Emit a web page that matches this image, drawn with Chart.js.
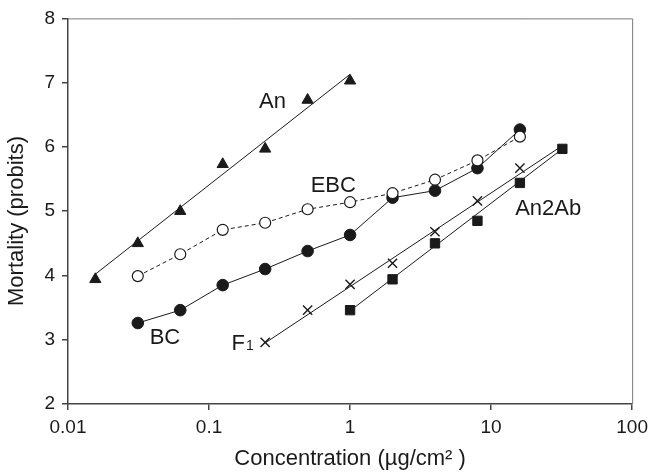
<!DOCTYPE html>
<html>
<head>
<meta charset="utf-8">
<script src="https://cdn.jsdelivr.net/npm/chart.js@4.4.1/dist/chart.umd.min.js"></script>
<style>
  html, body { margin: 0; padding: 0; background: #fff; }
</style>
</head>
<body>
<canvas id="probitChart" width="654" height="472"></canvas>
<script>
// concentrations (ug/cm2) for each series
const anX = [0.015625, 0.03125, 0.0625, 0.125, 0.25, 0.5, 1];
const anY = [3.94, 4.50, 5.00, 5.73, 5.97, 6.73, 7.03];

const ebcX = [0.03125, 0.0625, 0.125, 0.25, 0.5, 1, 2, 4, 8, 16];
const ebcY = [3.99, 4.33, 4.71, 4.82, 5.03, 5.14, 5.28, 5.49, 5.79, 6.16];

const bcX = [0.03125, 0.0625, 0.125, 0.25, 0.5, 1, 2, 4, 8, 16];
const bcY = [3.26, 3.46, 3.85, 4.10, 4.38, 4.63, 5.21, 5.32, 5.67, 6.27];

const f1X = [0.25, 0.5, 1, 2, 4, 8, 16];
const f1Y = [2.96, 3.46, 3.86, 4.19, 4.68, 5.16, 5.67];

const an2abX = [1, 2, 4, 8, 16, 32];
const an2abY = [3.46, 3.94, 4.50, 4.85, 5.44, 5.97];

// fitted probit lines (end points)
const anFitX = [0.015625, 1];
const anFitY = [4.02, 7.13];
const f1FitX = [0.25, 32];
const f1FitY = [2.95, 6.02];
const an2abFitX = [1, 32];
const an2abFitY = [3.45, 5.97];

const xTicks = [0.01, 0.1, 1, 10, 100];
const xTickLabels = ['0.01', '0.1', '1', '10', '100'];
const yTicks = [2, 3, 4, 5, 6, 7, 8];

const FONT = '"Liberation Sans", Arial, Helvetica, sans-serif';
const INK = '#1a1a1a';

function pts(xs, ys) {
    return xs.map((x, i) => ({ x: x, y: ys[i] }));
}

// series labels written inside the plot, anchored in data units
const seriesLabels = [
    { text: 'An', x: 0.282, y: 6.73 },
    { text: 'EBC', x: 0.76, y: 5.42 },
    { text: 'BC', x: 0.0487, y: 3.05 },
    { text: 'F', sub: '1', x: 0.161, y: 2.96 },
    { text: 'An2Ab', x: 25.4, y: 5.06 }
];

const decorPlugin = {
    id: 'decor',
    afterDraw(chart) {
        const ctx = chart.ctx;
        const area = chart.chartArea;
        const xs = chart.scales.x;
        const ys = chart.scales.y;
        ctx.save();

        // thin grey frame on top and right
        ctx.strokeStyle = '#7a7a7a';
        ctx.lineWidth = 1;
        ctx.beginPath();
        ctx.moveTo(area.left, area.top + 0.5);
        ctx.lineTo(area.right + 0.5, area.top + 0.5);
        ctx.lineTo(area.right + 0.5, area.bottom);
        ctx.stroke();

        // labels next to the lines
        ctx.fillStyle = INK;
        ctx.textBaseline = 'alphabetic';
        seriesLabels.forEach(l => {
            const px = xs.getPixelForValue(l.x);
            const py = ys.getPixelForValue(l.y);
            ctx.font = '22px ' + FONT;
            const w = ctx.measureText(l.text).width;
            if (l.sub) {
                ctx.textAlign = 'left';
                ctx.fillText(l.text, px - w / 2, py + 7.5);
                ctx.font = '14px ' + FONT;
                ctx.fillText(l.sub, px + w / 2 + 1, py + 8);
            } else {
                ctx.textAlign = 'center';
                ctx.fillText(l.text, px, py + 7.5);
            }
        });

        // axis titles
        ctx.font = '22px ' + FONT;
        ctx.textAlign = 'center';
        ctx.fillText('Concentration (\u00b5g/cm\u00b2 )', (area.left + area.right) / 2, 465);

        ctx.translate(17, 221);
        ctx.rotate(-Math.PI / 2);
        ctx.textBaseline = 'middle';
        ctx.fillText('Mortality (probits)', 0, 0);
        ctx.restore();
    }
};

const ctx = document.getElementById('probitChart').getContext('2d');
new Chart(ctx, {
    type: 'line',
    data: {
        datasets: [
            // EBC first so its open circles sit on top of BC
            {
                label: 'EBC',
                data: pts(ebcX, ebcY),
                borderColor: INK,
                borderWidth: 1,
                borderDash: [4, 3],
                pointStyle: 'circle',
                pointRadius: 5.5,
                pointBackgroundColor: '#fff',
                pointBorderColor: INK,
                pointBorderWidth: 1.2
            },
            {
                label: 'BC',
                data: pts(bcX, bcY),
                borderColor: INK,
                borderWidth: 1,
                pointStyle: 'circle',
                pointRadius: 5.8,
                pointBackgroundColor: INK,
                pointBorderColor: INK,
                pointBorderWidth: 1
            },
            {
                label: 'An',
                data: pts(anX, anY),
                showLine: false,
                pointStyle: 'triangle',
                pointRadius: 6.5,
                pointBackgroundColor: INK,
                pointBorderColor: INK,
                pointBorderWidth: 1
            },
            {
                label: 'F1',
                data: pts(f1X, f1Y),
                showLine: false,
                pointStyle: 'crossRot',
                pointRadius: 6.5,
                pointBorderColor: INK,
                pointBorderWidth: 1.4
            },
            {
                label: 'An2Ab',
                data: pts(an2abX, an2abY),
                showLine: false,
                pointStyle: 'rect',
                pointRadius: 6.6,
                pointBackgroundColor: INK,
                pointBorderColor: INK,
                pointBorderWidth: 1
            },
            {
                label: 'An fit',
                data: pts(anFitX, anFitY),
                borderColor: INK,
                borderWidth: 1,
                pointRadius: 0
            },
            {
                label: 'F1 fit',
                data: pts(f1FitX, f1FitY),
                borderColor: INK,
                borderWidth: 1,
                pointRadius: 0
            },
            {
                label: 'An2Ab fit',
                data: pts(an2abFitX, an2abFitY),
                borderColor: INK,
                borderWidth: 1,
                pointRadius: 0
            }
        ]
    },
    options: {
        responsive: false,
        animation: false,
        events: [],
        layout: { padding: { top: 18, right: 21, left: 0, bottom: 0 } },
        plugins: {
            legend: { display: false },
            tooltip: { enabled: false }
        },
        scales: {
            x: {
                type: 'logarithmic',
                min: 0.01,
                max: 100,
                afterBuildTicks: s => { s.ticks = xTicks.map(v => ({ value: v })); },
                afterFit: s => { s.height = 68; },
                border: { color: '#444', width: 1.5 },
                grid: { drawOnChartArea: false, drawTicks: true, tickLength: 6, color: '#444', lineWidth: 1.5 },
                ticks: {
                    autoSkip: false,
                    maxRotation: 0,
                    padding: 6,
                    color: INK,
                    font: { family: FONT, size: 19 },
                    callback: v => xTickLabels[xTicks.indexOf(v)]
                }
            },
            y: {
                type: 'linear',
                min: 2,
                max: 8,
                afterBuildTicks: s => { s.ticks = yTicks.map(v => ({ value: v })); },
                afterFit: s => { s.width = 68; },
                border: { color: '#444', width: 1.5 },
                grid: { drawOnChartArea: false, drawTicks: true, tickLength: 6, color: '#444', lineWidth: 1.5 },
                ticks: {
                    padding: 7,
                    color: INK,
                    font: { family: FONT, size: 19 }
                }
            }
        }
    },
    plugins: [decorPlugin]
});
</script>
</body>
</html>
